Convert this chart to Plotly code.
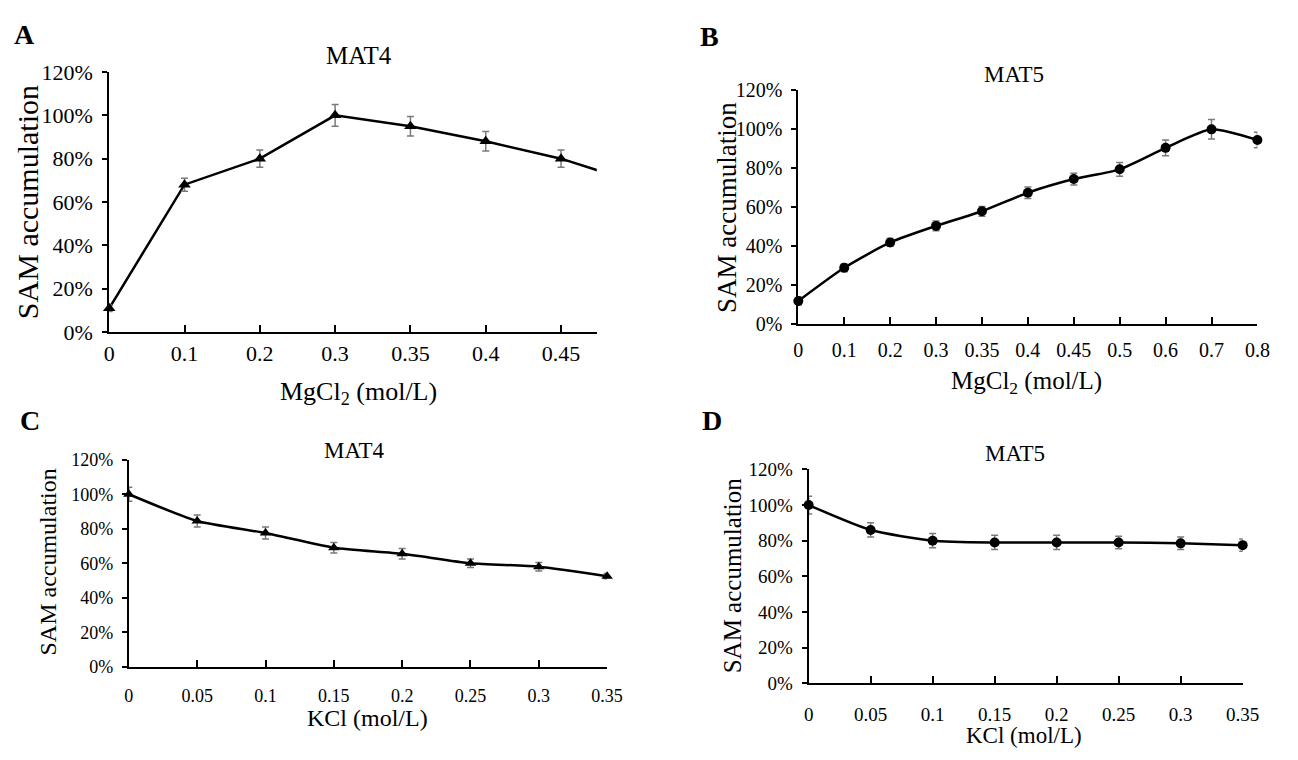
import plotly.graph_objects as go

W, H = 1298, 760

# ---------------- data ----------------
a_labels = ["0", "0.1", "0.2", "0.3", "0.35", "0.4", "0.45", "0.5"]
a_values = [11, 68, 80, 100, 95, 88, 80, 69]
a_errors = [1.5, 3, 4, 5, 4.5, 4.5, 4, 4]
a_visible = 7  # last category lies beyond the drawn axis

b_labels = ["0", "0.1", "0.2", "0.3", "0.35", "0.4", "0.45", "0.5", "0.6", "0.7", "0.8"]
b_values = [12, 29, 42, 50.5, 58, 67.5, 74.5, 79.5, 90.5, 100, 94.5]
b_errors = [2, 2, 2, 2.5, 2.5, 3, 3, 3.5, 4, 5, 4]

c_labels = ["0", "0.05", "0.1", "0.15", "0.2", "0.25", "0.3", "0.35"]
c_values = [100, 84.5, 77.5, 69, 65.5, 60, 58, 52.5]
c_errors = [4, 3.5, 3.5, 3, 3, 2.5, 2.5, 1.5]

d_labels = ["0", "0.05", "0.1", "0.15", "0.2", "0.25", "0.3", "0.35"]
d_values = [100, 86, 80, 79, 79, 79, 78.5, 77.5]
d_errors = [5, 4, 4, 4, 4, 3.5, 3.5, 3.5]

y_ticks = [0, 20, 40, 60, 80, 100, 120]
y_ticktext = [f"{v}%" for v in y_ticks]

FONT = "Liberation Serif"


def px_x(v):
    return v / W


def px_y(v):
    return 1 - v / H


fig = go.Figure()

panels = [
    dict(labels=a_labels, values=a_values, errors=a_errors, marker="triangle-up", n=a_visible,
         xend=6.475, xd=(106, 602), yd=(62, 331), tfs=22, shape="linear", msize=11, xso=0),
    dict(labels=b_labels, values=b_values, errors=b_errors, marker="circle", n=len(b_labels),
         xend=10, xd=(807, 1274), yd=(81, 323), tfs=20, shape="spline", msize=10, xso=7),
    dict(labels=c_labels, values=c_values, errors=c_errors, marker="triangle-up", n=len(c_labels),
         xend=7, xd=(126, 612.5), yd=(463, 677), tfs=18, shape="spline", msize=10, xso=12),
    dict(labels=d_labels, values=d_values, errors=d_errors, marker="circle", n=len(d_labels),
         xend=7, xd=(817.5, 1259), yd=(473, 694), tfs=19, shape="spline", msize=10, xso=13),
]

layout_axes = {}
for i, p in enumerate(panels, start=1):
    xa = "x" if i == 1 else f"x{i}"
    ya = "y" if i == 1 else f"y{i}"
    idx = list(range(len(p["labels"])))
    # line through all points (clipped to the plot area)
    fig.add_trace(go.Scatter(
        x=idx, y=p["values"], mode="lines", xaxis=xa, yaxis=ya,
        line=dict(color="black", width=2.5, shape=p["shape"], smoothing=0.6),
        showlegend=False, hoverinfo="skip"))
    # markers with error bars
    n = p["n"]
    fig.add_trace(go.Scatter(
        x=idx[:n], y=p["values"][:n], mode="markers", xaxis=xa, yaxis=ya,
        marker=dict(symbol=p["marker"], color="black", size=p["msize"]),
        error_y=dict(type="data", array=p["errors"][:n], color="#7a7a7a",
                     thickness=1.5, width=3.5),
        cliponaxis=False, showlegend=False))
    key = "" if i == 1 else str(i)
    layout_axes["xaxis" + key] = dict(
        domain=[px_x(p["xd"][0]), px_x(p["xd"][1])], anchor=ya,
        range=[0, p["xend"]], tickmode="array",
        tickvals=idx[:n], ticktext=p["labels"][:n],
        showline=True, linecolor="black", linewidth=2,
        ticks="inside", ticklen=7, tickwidth=2, tickcolor="black",
        ticklabelstandoff=p["xso"],
        showgrid=False, zeroline=False,
        tickfont=dict(family=FONT, size=p["tfs"], color="black"))
    layout_axes["yaxis" + key] = dict(
        domain=[px_y(p["yd"][1]), px_y(p["yd"][0])], anchor=xa,
        range=[0, 120], tickmode="array", tickvals=y_ticks, ticktext=y_ticktext,
        showline=True, linecolor="black", linewidth=2,
        ticks="outside", ticklen=5, tickwidth=2, tickcolor="black",
        ticklabelstandoff=5,
        showgrid=False, zeroline=False,
        tickfont=dict(family=FONT, size=p["tfs"], color="black"))

annotations = []


def ann(text, x, y, size, bold=False, angle=0):
    annotations.append(dict(
        text=f"<b>{text}</b>" if bold else text, x=px_x(x), y=px_y(y),
        xref="paper", yref="paper", xanchor="center", yanchor="middle",
        showarrow=False, textangle=angle, borderpad=0,
        font=dict(family=FONT, size=size, color="black")))


# panel letters
ann("A", 20, 23, 28, bold=True)
ann("B", 717, 25, 28, bold=True)
ann("C", 25, 422, 28, bold=True)
ann("D", 719, 422, 28, bold=True)
# titles
ann("MAT4", 360, 45, 25)
ann("MAT5", 1026, 65, 23)
ann("MAT4", 356, 453, 23)
ann("MAT5", 1027, 457, 23)
# y titles
ann("SAM accumulation", 23, 197, 30, angle=-90)
ann("SAM accumulation", 735, 202, 27, angle=-90)
ann("SAM accumulation", 44, 569, 24, angle=-90)
ann("SAM accumulation", 740, 582, 25, angle=-90)
# x titles
ann("MgCl<sub>2</sub> (mol/L)", 360, 394, 26)
ann("MgCl<sub>2</sub> (mol/L)", 1039, 383, 25)
ann("KCl (mol/L)", 369, 730, 24)
ann("KCl (mol/L)", 1037, 748, 23)

fig.update_layout(
    width=W, height=H, margin=dict(l=0, r=0, t=0, b=0),
    paper_bgcolor="white", plot_bgcolor="white",
    annotations=annotations, showlegend=False, **layout_axes)

fig.write_html("out.html")
